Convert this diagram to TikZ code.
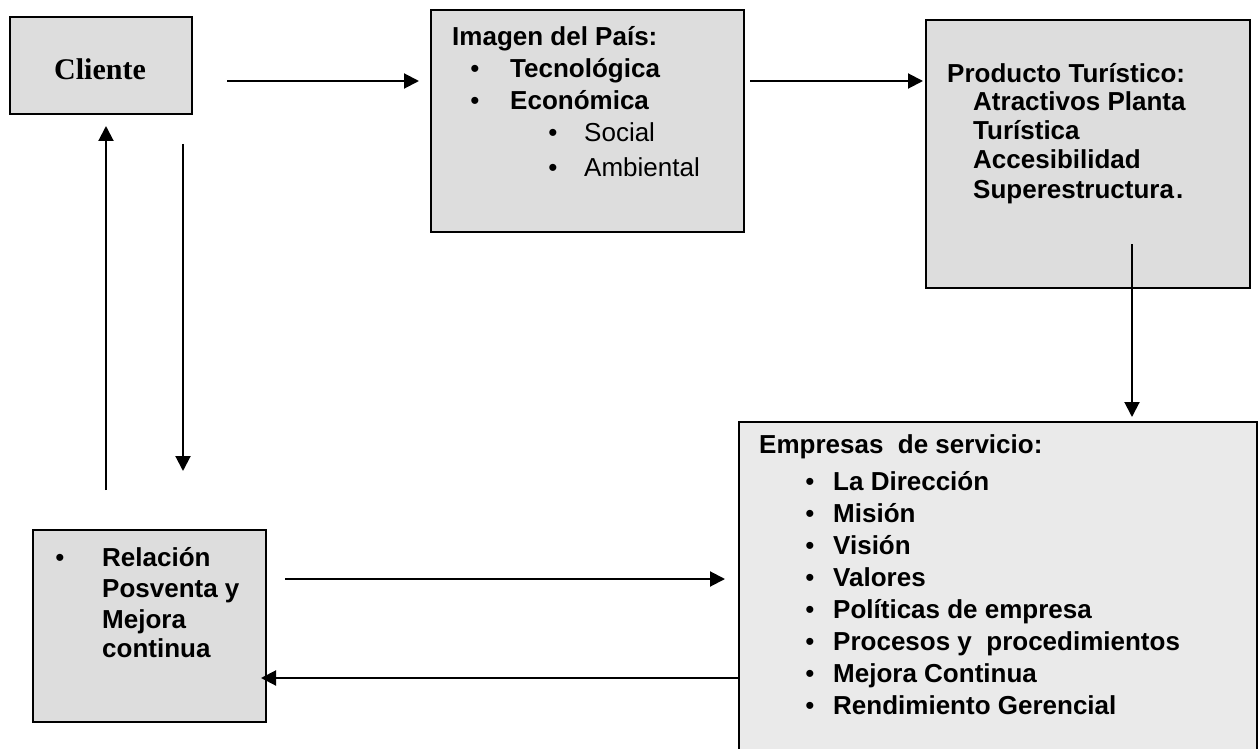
\documentclass[tikz,border=0pt]{standalone}
\usepackage{fontspec}
\setmainfont{Liberation Sans}
\newfontfamily\clientefont{Liberation Serif}
\usetikzlibrary{arrows.meta}

\definecolor{boxgray}{HTML}{DDDDDD}
\definecolor{lightbox}{HTML}{EAEAEA}

\begin{document}
\begin{tikzpicture}[x=1pt,y=-1pt,
  panel/.style={draw=black, line width=2pt, fill=boxgray, anchor=north west,
                inner sep=0pt, outer sep=0pt},
  txt/.style={anchor=base west, inner sep=0pt, font=\fontsize{26}{30}\selectfont\bfseries},
  txtr/.style={anchor=base west, inner sep=0pt, font=\fontsize{26}{30}\selectfont},
  dot/.style={anchor=base, inner sep=0pt, font=\fontsize{26}{30}\selectfont},
  flow/.style={line width=2pt, -{Triangle[length=15pt,width=15pt]}}]

\clip (0,0) rectangle (1259,749);
\fill[white] (0,0) rectangle (1259,749);

% boxes
\node[panel, minimum width=182pt, minimum height=97pt] (cliente) at (10,17) {};
\node[panel, minimum width=313pt, minimum height=222pt] (imagen) at (431,10) {};
\node[panel, minimum width=324pt, minimum height=268pt] (producto) at (926,20) {};
\node[panel, minimum width=233pt, minimum height=192pt] (relacion) at (33,530) {};
\node[panel, fill=lightbox, minimum width=518pt, minimum height=360pt] (empresas) at (739,422) {};

% Cliente
\node[anchor=base, inner sep=0pt, font=\clientefont\bfseries\fontsize{30}{30}\selectfont] (tcliente) at (100,80) {Cliente};

% Imagen del Pais
\node[txt] (i0) at (452,46) {Imagen del País:};
\node[dot] (ib1) at (475,78) {•};
\node[txt] (i1) at (510,78) {Tecnológica};
\node[dot] (ib2) at (475,110) {•};
\node[txt] (i2) at (510,110) {Económica};
\node[dot] (ib3) at (553,142) {•};
\node[txtr] (i3) at (584,142) {Social};
\node[dot] (ib4) at (553,176) {•};
\node[txtr] (i4) at (584,176) {Ambiental};

% Producto turistico
\node[txt] (p0) at (947,83) {Producto Turístico:};
\node[txt] (p1) at (973,111) {Atractivos Planta};
\node[txt] (p2) at (973,140) {Turística};
\node[txt] (p3) at (973,169) {Accesibilidad};
\node[txt] (p4) at (973,198) {Superestructura\kern2pt.};

% Relacion posventa
\node[dot] (rb) at (60,566) {•};
\node[txt] (r1) at (102,566) {Relación};
\node[txt] (r2) at (102,597) {Posventa y};
\node[txt] (r3) at (102,628) {Mejora};
\node[txt] (r4) at (102,657) {continua};

% Empresas de servicio
\node[txt] (e0) at (759,453) {Empresas\ \ de servicio:};
\foreach \t [count=\k] in {La Dirección, Misión, Visión, Valores,
    Políticas de empresa, Procesos y\ \ procedimientos, Mejora Continua,
    Rendimiento Gerencial} {
  \node[dot] (eb\k) at (810,{458+32*\k}) {•};
  \node[txt] (e\k) at (833,{458+32*\k}) {\t};
}

% free ends of connectors
\coordinate (a1s) at (227,81);   \coordinate (a1e) at (419,81);
\coordinate (a2s) at (750,81);   \coordinate (a2e) at (923,81);
\coordinate (a3s) at (1132,244); \coordinate (a3e) at (1132,417);
\coordinate (a4s) at (285,579);  \coordinate (a4e) at (725,579);
\coordinate (a5s) at (739,678);  \coordinate (a5e) at (261,678);
\coordinate (a6s) at (106,490);  \coordinate (a6e) at (106,126);
\coordinate (a7s) at (183,144);  \coordinate (a7e) at (183,471);

% connectors
\draw[flow] (a1s) -- (a1e);
\draw[flow] (a2s) -- (a2e);
\draw[flow] (a3s) -- (a3e);
\draw[flow] (a4s) -- (a4e);
\draw[flow] (a5s) -- (a5e);
\draw[flow] (a6s) -- (a6e);
\draw[flow] (a7s) -- (a7e);
\end{tikzpicture}
\end{document}
